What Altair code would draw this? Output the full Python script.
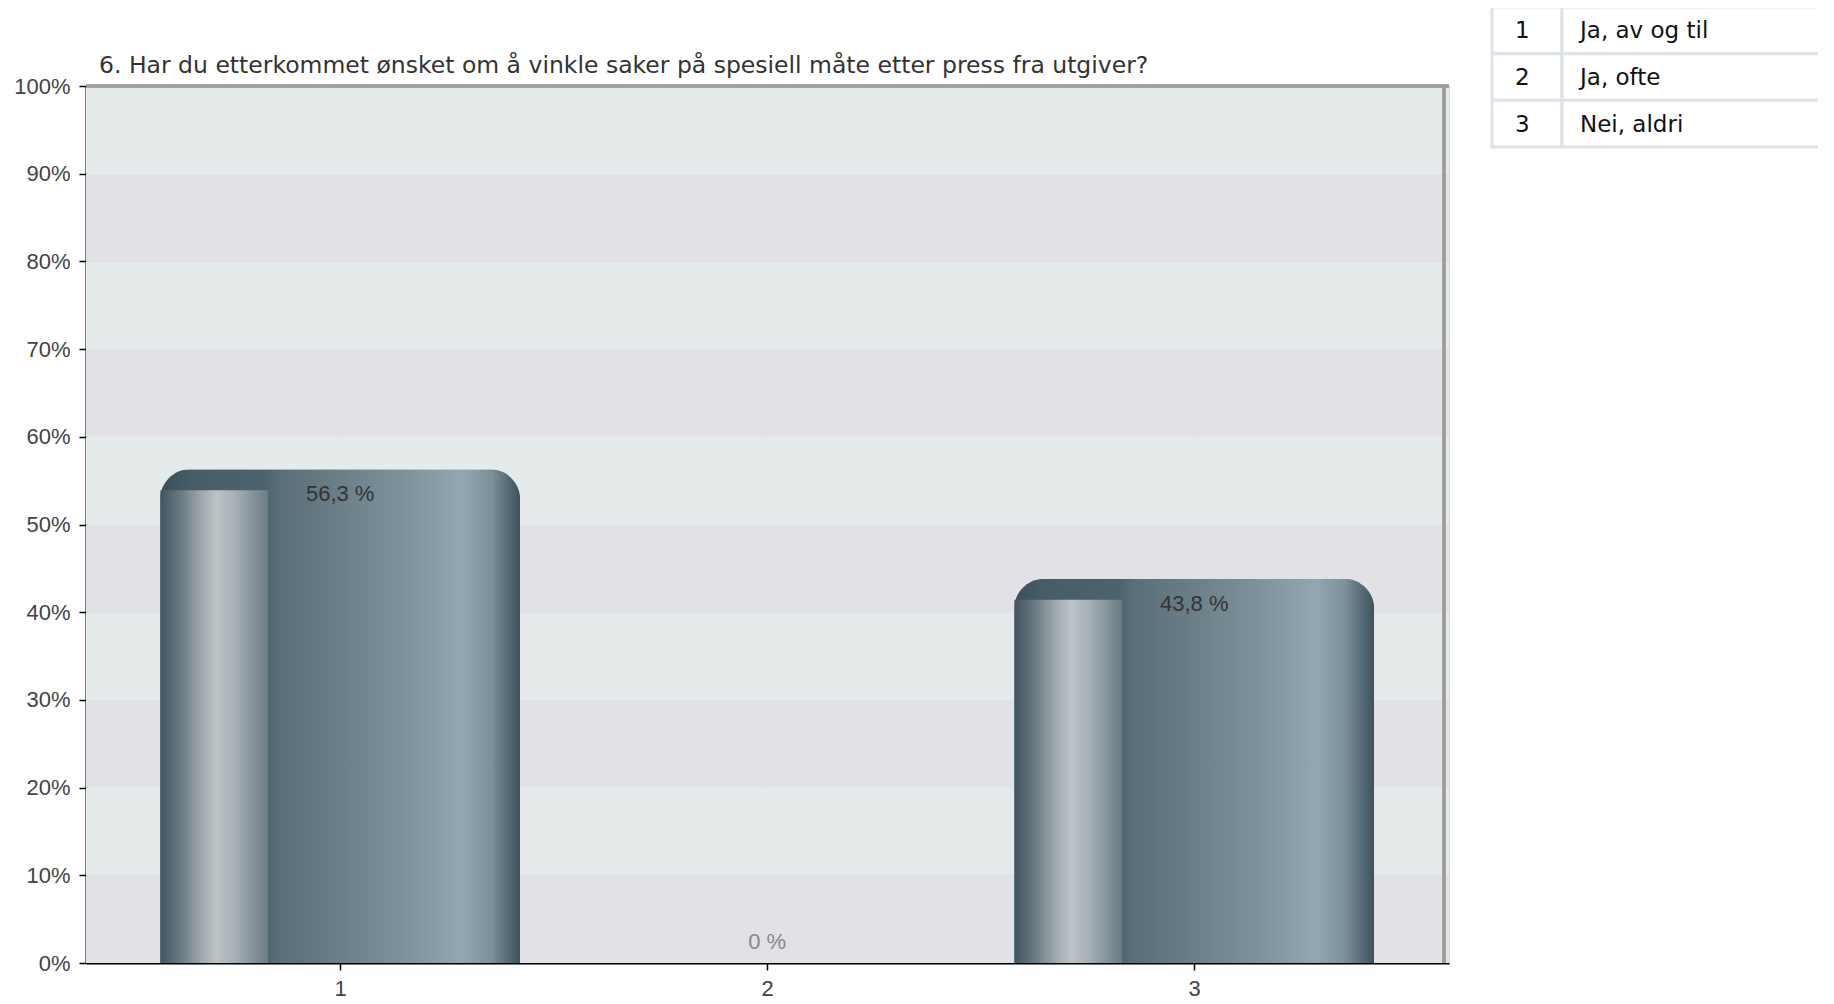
import altair as alt
import pandas as pd

# ---- data ----
categories = [1, 2, 3]
values = [56.3, 0.0, 43.8]
value_labels = ["56,3 %", "0 %", "43,8 %"]
answer_labels = ["Ja, av og til", "Ja, ofte", "Nei, aldri"]
y_ticks = [0, 10, 20, 30, 40, 50, 60, 70, 80, 90, 100]
title_text = "6. Har du etterkommet ønsket om å vinkle saker på spesiell måte etter press fra utgiver?"

df = pd.DataFrame({"kategori": categories, "verdi": values, "etikett": value_labels,
                   "svar": answer_labels})
bands = pd.DataFrame({"lo": y_ticks[:-1], "hi": y_ticks[1:],
                      "par": [i % 2 for i in range(len(y_ticks) - 1)]})
title_df = pd.DataFrame({"t": [title_text]})

W, H = 1363, 877
FONT = "Liberation Sans"
X_MIN, X_MAX = 0.4165, 3.585

xs = alt.Scale(domain=[X_MIN, X_MAX], nice=False, zero=False)
ys = alt.Scale(domain=[0, 100], nice=False)

band_layer = alt.Chart(bands).mark_rect().encode(
    y=alt.Y("lo:Q", scale=ys,
            axis=alt.Axis(values=y_ticks, labelExpr="datum.value + '%'", title=None,
                          grid=True, gridColor="#d0d0d4", gridWidth=1.5,
                          domainColor="#000000", domainWidth=2,
                          tickColor="#000000", tickWidth=1.5, tickSize=7,
                          labelFont=FONT, labelFontSize=22, labelColor="#444444",
                          labelPadding=9)),
    y2="hi:Q",
    color=alt.Color("par:N", scale=alt.Scale(domain=[0, 1], range=["#e2e1e6", "#e5ebeb"]),
                    legend=None),
)

x_axis_layer = alt.Chart(df).mark_rule(opacity=0).encode(
    x=alt.X("kategori:Q", scale=xs,
            axis=alt.Axis(values=categories, format="d", title=None,
                          grid=True, gridColor="#d4d4d7", gridWidth=1.5,
                          domainColor="#000000", domainWidth=2,
                          tickColor="#000000", tickWidth=1.5, tickSize=7,
                          labelFont=FONT, labelFontSize=22, labelColor="#444444",
                          labelPadding=8)),
    y=alt.Y("verdi:Q", scale=ys),
)

top_border = alt.Chart(df).mark_rule(color="#9c9c9c", strokeWidth=3).encode(
    y=alt.datum(100, scale=ys))
right_border = alt.Chart(df).mark_rule(color="#9c9c9c", strokeWidth=3).encode(
    x=alt.datum(X_MAX, scale=xs))

outer_grad = alt.Gradient(
    gradient="linear", x1=0, x2=1, y1=0, y2=0,
    stops=[
        alt.GradientStop(color="#3a505b", offset=0.0),
        alt.GradientStop(color="#465c67", offset=0.08),
        alt.GradientStop(color="#4c626d", offset=0.29),
        alt.GradientStop(color="#586e78", offset=0.33),
        alt.GradientStop(color="#6b7f88", offset=0.5),
        alt.GradientStop(color="#7e929b", offset=0.68),
        alt.GradientStop(color="#92a7b1", offset=0.84),
        alt.GradientStop(color="#7c909a", offset=0.92),
        alt.GradientStop(color="#3c525d", offset=1.0),
    ],
)
lip_grad = alt.Gradient(
    gradient="linear", x1=0, x2=1, y1=0, y2=0,
    stops=[
        alt.GradientStop(color="#3e5460", offset=0.0),
        alt.GradientStop(color="#68787f", offset=0.18),
        alt.GradientStop(color="#9ea8ad", offset=0.38),
        alt.GradientStop(color="#bcc2c5", offset=0.52),
        alt.GradientStop(color="#a9b2b7", offset=0.68),
        alt.GradientStop(color="#87959c", offset=0.85),
        alt.GradientStop(color="#6a7b83", offset=1.0),
    ],
)

pos = alt.Chart(df).transform_filter("datum.verdi > 0")

bars = pos.mark_bar(width=360, fill=outer_grad, cornerRadiusTopLeft=30,
                    cornerRadiusTopRight=30).encode(
    x=alt.X("kategori:Q", scale=xs),
    y=alt.Y("verdi:Q", scale=ys),
)
lip = pos.mark_bar(width=108, xOffset=-126, yOffset=21, fill=lip_grad,
                   cornerRadiusTopLeft=22).encode(
    x=alt.X("kategori:Q", scale=xs),
    y=alt.Y("verdi:Q", scale=ys),
)
bar_text = pos.mark_text(dy=25, font=FONT, fontSize=22, color="#333333",
                         baseline="middle").encode(
    x=alt.X("kategori:Q", scale=xs),
    y=alt.Y("verdi:Q", scale=ys),
    text="etikett:N",
)
zero_text = alt.Chart(df).transform_filter("datum.verdi == 0").mark_text(
    dy=-21, font=FONT, fontSize=22, color="#888888", baseline="middle").encode(
    x=alt.X("kategori:Q", scale=xs),
    y=alt.Y("verdi:Q", scale=ys),
    text="etikett:N",
)

title_mark = alt.Chart(title_df).mark_text(
    align="left", baseline="alphabetic", font="DejaVu Sans", fontSize=23.5,
    color="#333333").encode(
    x=alt.value(13), y=alt.value(-13), text="t:N")

main = alt.layer(band_layer, x_axis_layer, top_border, right_border, bars, lip,
                 bar_text, zero_text, title_mark)

# ---- answer table (legend) ----
row_y = alt.Y("kategori:O", scale=alt.Scale(range=[-79, 61], paddingInner=0, paddingOuter=0),
              axis=None)
tbl = alt.Chart(df)
cell1 = tbl.mark_rect(fill="white", stroke="#dde3e8", strokeWidth=3).encode(
    y=row_y, x=alt.value(1406), x2=alt.value(1476))
cell2 = tbl.mark_rect(fill="white", stroke="#dde3e8", strokeWidth=3).encode(
    y=row_y, x=alt.value(1476), x2=alt.value(1765))
num_text = tbl.mark_text(align="left", baseline="middle", dy=1, font="DejaVu Sans",
                         fontSize=23, color="#111111").encode(
    y=row_y, x=alt.value(1429), text="kategori:N")
ans_text = tbl.mark_text(align="left", baseline="middle", dy=1, font="DejaVu Sans",
                         fontSize=23, color="#111111").encode(
    y=row_y, x=alt.value(1494), text="svar:N")
table = alt.layer(cell1, cell2, num_text, ans_text)

chart = alt.layer(main, table).resolve_scale(y="independent").properties(
    width=W, height=H,
    autosize=alt.AutoSizeParams(type="none"),
    padding={"left": 78, "top": 78, "right": 369, "bottom": 38},
).configure_view(stroke=None).configure(background="white")

chart.save("out.html", embed_options={"renderer": "svg", "actions": False})
